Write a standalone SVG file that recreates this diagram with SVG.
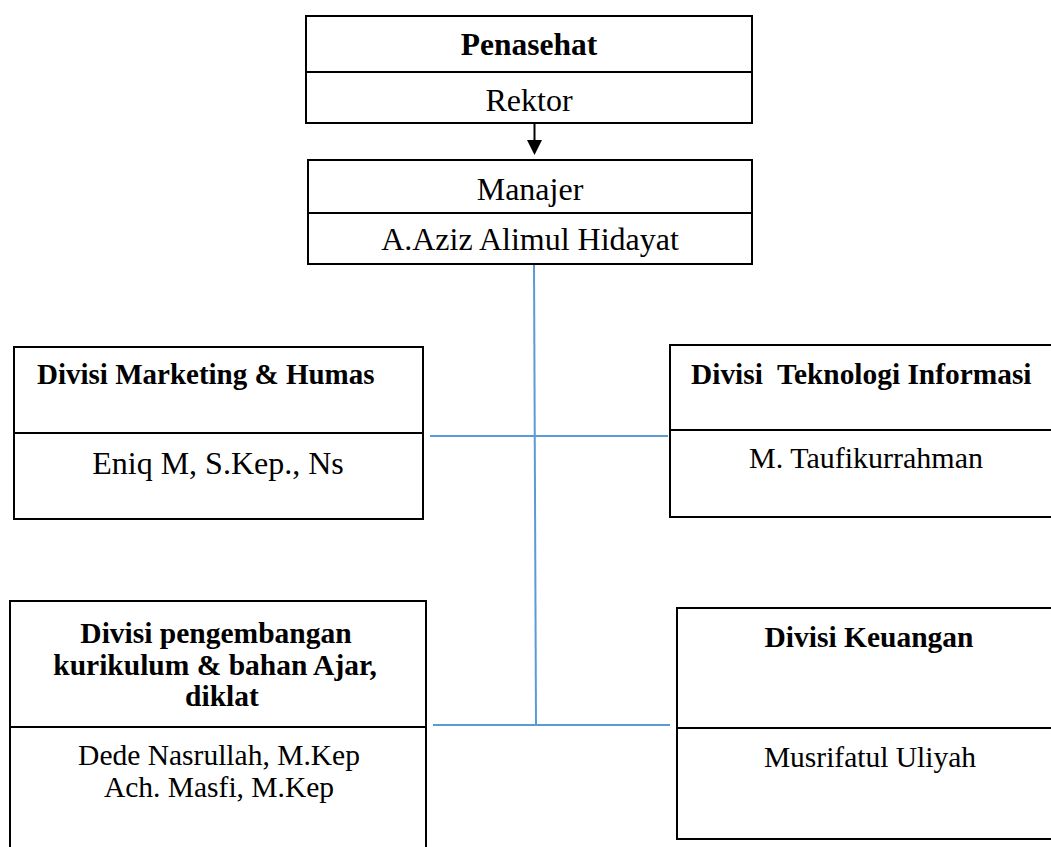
<svg xmlns="http://www.w3.org/2000/svg" width="1051" height="847" viewBox="0 0 1051 847">
  <style>
    .box { fill: #ffffff; stroke: #000000; stroke-width: 2; }
    .div { stroke: #000000; stroke-width: 2; }
    .t { font-family: "Liberation Serif", "Times New Roman", serif; fill: #000000; }
    .b { font-weight: bold; }
    .c { text-anchor: middle; }
    .link { stroke: #5B9BD5; stroke-width: 2; fill: none; }
  </style>
  <rect width="1051" height="847" fill="#ffffff"/>

  <!-- connectors -->
  <g id="connectors">
    <line class="link" x1="534" y1="264" x2="536" y2="725"/>
    <line class="link" x1="430" y1="436" x2="668" y2="436"/>
    <line class="link" x1="433" y1="725" x2="670" y2="725"/>
    <line x1="534.5" y1="123" x2="534.5" y2="141" stroke="#000000" stroke-width="2"/>
    <polygon points="527,140 542,140 534.5,155" fill="#000000"/>
  </g>

  <!-- advisor -->
  <g id="penasehat">
    <rect class="box" x="306" y="16" width="446" height="107"/>
    <line class="div" x1="306" y1="72" x2="752" y2="72"/>
    <text class="t b c" x="529" y="55" font-size="31.5">Penasehat</text>
    <text class="t c" x="529" y="111" font-size="32">Rektor</text>
  </g>

  <!-- manager -->
  <g id="manajer">
    <rect class="box" x="308" y="160" width="444" height="104"/>
    <line class="div" x1="308" y1="213" x2="752" y2="213"/>
    <text class="t c" x="530" y="200" font-size="32">Manajer</text>
    <text class="t c" x="530" y="250" font-size="32">A.Aziz Alimul Hidayat</text>
  </g>

  <!-- marketing division -->
  <g id="marketing">
    <rect class="box" x="14" y="347" width="409" height="172"/>
    <line class="div" x1="14" y1="433" x2="423" y2="433"/>
    <text class="t b" x="37" y="384" font-size="29">Divisi Marketing &amp; Humas</text>
    <text class="t c" x="218" y="474" font-size="32">Eniq M, S.Kep., Ns</text>
  </g>

  <!-- IT division -->
  <g id="teknologi">
    <rect class="box" x="670" y="345" width="400" height="172"/>
    <line class="div" x1="670" y1="430" x2="1051" y2="430"/>
    <text class="t b" x="691" y="384" font-size="29.4" xml:space="preserve">Divisi  Teknologi Informasi</text>
    <text class="t c" x="866" y="468" font-size="30">M. Taufikurrahman</text>
  </g>

  <!-- curriculum division -->
  <g id="kurikulum">
    <rect class="box" x="10" y="601" width="416" height="260"/>
    <line class="div" x1="10" y1="727" x2="426" y2="727"/>
    <text class="t b c" x="216" y="643" font-size="29.5">Divisi pengembangan</text>
    <text class="t b c" x="215" y="675" font-size="29.5">kurikulum &amp; bahan Ajar,</text>
    <text class="t b c" x="222" y="706" font-size="29.5">diklat</text>
    <text class="t c" x="219" y="765" font-size="29.5">Dede Nasrullah, M.Kep</text>
    <text class="t c" x="219" y="797" font-size="29.5">Ach. Masfi, M.Kep</text>
  </g>

  <!-- finance division -->
  <g id="keuangan">
    <rect class="box" x="677" y="608" width="400" height="231"/>
    <line class="div" x1="677" y1="728" x2="1051" y2="728"/>
    <text class="t b c" x="869" y="647" font-size="29.5">Divisi Keuangan</text>
    <text class="t c" x="870" y="767" font-size="29.5">Musrifatul Uliyah</text>
  </g>
</svg>
